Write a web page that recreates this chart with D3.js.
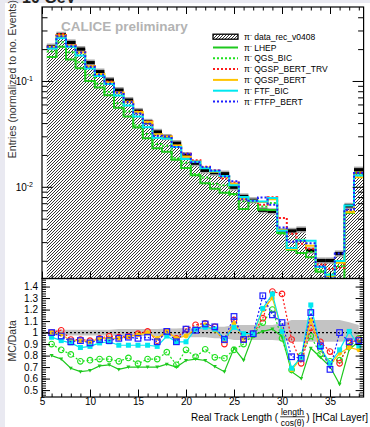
<!DOCTYPE html>
<html>
<head>
<meta charset="utf-8">
<script src="https://cdn.jsdelivr.net/npm/d3@7"></script>
<style>
  body { margin: 0; background: #fff; }
  svg { display: block; font-family: "Liberation Sans", Arial, sans-serif; }
</style>
</head>
<body>
<svg id="chart" width="370" height="427"></svg>
<script>
// bin centres (HCal layers)
const binCenters = [6,7,8,9,10,11,12,13,14,15,16,17,18,19,20,21,22,23,24,25,26,27,28,29,30,31,32,33,34,35,36,37,38];

// data, normalized entries
const dataVals = [0.211,0.273,0.231,0.200,0.149,0.1225,0.102,0.082,0.066,0.052,0.041,0.033,0.0295,0.0258,
  0.0199,0.0167,0.0143,0.0136,0.0133,0.0099,0.0081,0.00745,0.0060,0.00586,0.0038,0.00383,0.00395,
  0.0025,0.00201,0.00201,0.00234,0.0066,0.0145];

// MC/Data ratios per model
const ratioLHEP = [0.80,0.77,0.69,0.66,0.67,0.71,0.72,0.68,0.70,0.70,0.70,0.70,0.725,0.70,
  0.757,0.77,0.757,0.705,0.66,0.864,0.76,0.98,1.01,1.03,0.965,0.66,0.60,0.864,0.785,0.705,0.55,0.855,0.92];
const ratioQGSBIC = [0.90,0.85,0.81,0.75,0.76,0.77,0.77,0.75,0.78,0.73,0.77,0.77,0.83,0.72,
  0.85,0.79,0.855,0.785,0.777,0.85,0.90,0.98,1.087,1.20,0.95,0.675,0.80,0.97,0.81,0.75,0.76,0.88,0.95];
const ratioTRV = [1.0,1.02,0.94,0.94,0.93,0.95,0.97,0.96,0.97,0.99,1.01,0.93,1.01,0.95,
  1.03,1.067,1.08,1.05,0.90,1.11,0.94,0.99,1.125,1.357,1.336,0.94,0.733,1.04,0.92,0.835,0.733,0.91,0.94];
const ratioQGSPBERT = [1.0,0.985,0.93,0.93,0.92,0.95,0.95,0.95,0.965,0.98,1.0,0.95,1.01,0.95,
  0.97,1.03,1.067,1.02,0.94,1.08,0.95,0.99,1.197,1.30,1.02,0.675,0.777,1.11,0.864,0.72,0.82,0.87,0.85];
const ratioFTFBIC = [0.96,0.93,0.91,0.87,0.88,0.91,0.92,0.89,0.89,0.89,0.89,0.88,0.97,0.92,
  0.92,1.03,1.046,1.03,0.95,1.046,0.99,0.99,1.21,1.336,1.01,0.69,0.785,1.24,0.87,0.733,0.85,1.01,0.884];
const ratioFTFPBERT = [1.0,0.97,0.92,0.93,0.91,0.94,0.93,0.95,0.96,0.95,0.96,0.92,1.01,0.92,
  1.03,1.02,1.075,1.05,0.94,1.14,0.94,0.99,1.32,1.154,1.087,0.79,0.777,1.174,0.884,0.68,1.0,0.92,0.93];

// data uncertainty band in the ratio panel
const bandUp = [1.025,1.025,1.025,1.025,1.025,1.025,1.025,1.03,1.03,1.03,1.03,1.03,1.035,1.035,
  1.04,1.04,1.04,1.05,1.05,1.065,1.065,1.065,1.065,1.065,1.08,1.11,1.11,1.11,1.11,1.11,1.11,1.09,1.065];
const bandLo = [0.975,0.975,0.975,0.975,0.975,0.975,0.975,0.97,0.97,0.97,0.97,0.97,0.965,0.965,
  0.96,0.96,0.96,0.95,0.95,0.935,0.935,0.935,0.935,0.935,0.93,0.92,0.92,0.92,0.92,0.92,0.92,0.925,0.935];

const xMajor = [5,10,15,20,25,30,35];
const ratioMajor = [0.5,0.6,0.7,0.8,0.9,1.0,1.1,1.2,1.3,1.4];
const logMajor = [0.01,0.1];

const models = [
  {name:"LHEP", ratio:ratioLHEP, color:"#1ec81e", dash:null, marker:"tri"},
  {name:"QGS_BIC", ratio:ratioQGSBIC, color:"#1ee01e", dash:"2,2", marker:"ocirc"},
  {name:"QGSP_BERT_TRV", ratio:ratioTRV, color:"#ff1a1a", dash:"2,2", marker:"ocirc"},
  {name:"QGSP_BERT", ratio:ratioQGSPBERT, color:"#ffc400", dash:null, marker:"fcirc"},
  {name:"FTF_BIC", ratio:ratioFTFBIC, color:"#00e8f0", dash:null, marker:"fsq"},
  {name:"FTFP_BERT", ratio:ratioFTFPBERT, color:"#1f1fff", dash:"2,2", marker:"osq"}
];

const L = 42, R = 363.6, T = 7, M = 278.5, B = 397;
const svg = d3.select("#chart");

// page strips and the cut-off title above the pad
svg.append("rect").attr("x",0).attr("y",0).attr("width",370).attr("height",3).attr("fill","#e9e9f1");
svg.append("rect").attr("x",0).attr("y",0).attr("width",5).attr("height",427).attr("fill","#e9e9f1");
svg.append("text").attr("x",22).attr("y",3).attr("font-size",16).attr("font-weight","bold")
  .attr("fill","#222").text("10 GeV");

const defs = svg.append("defs");
defs.append("pattern").attr("id","hatch").attr("patternUnits","userSpaceOnUse")
  .attr("width",3).attr("height",3)
  .append("path").attr("d","M-1,1 l2,-2 M0,3 l3,-3 M2,4 l2,-2")
  .attr("stroke","#000").attr("stroke-width",0.8);
defs.append("clipPath").attr("id","clipTop").append("rect")
  .attr("x",L).attr("y",T).attr("width",R-L).attr("height",M-T);
defs.append("clipPath").attr("id","clipRat").append("rect")
  .attr("x",L).attr("y",M).attr("width",R-L).attr("height",B-M);

const x = d3.scaleLinear().domain([5,38.5]).range([L,R]);
const yTop = d3.scaleLog().domain([0.00136,0.5]).range([M,T]);
const yRat = d3.scaleLinear().domain([0.44,1.47]).range([B,M]);

// ---------- top panel ----------
svg.append("rect").attr("x",L).attr("y",T).attr("width",R-L).attr("height",B-T).attr("fill","#fff");
const gTop = svg.append("g").attr("clip-path","url(#clipTop)");
const last = binCenters.length - 1;
function stepPts(vals) {
  const p = binCenters.map((c,i) => [c-0.5, vals[i]]);
  p.push([binCenters[last]+0.5, vals[last]]);
  return p;
}
const stepLine = d3.line().x(d => x(d[0])).y(d => yTop(d[1])).curve(d3.curveStepAfter);
const stepArea = d3.area().x(d => x(d[0])).y0(M).y1(d => yTop(d[1])).curve(d3.curveStepAfter);

gTop.append("path").attr("d", stepArea(stepPts(dataVals))).attr("fill","url(#hatch)");
gTop.selectAll("rect.errg").data(dataVals).join("rect")
  .attr("x",(v,i) => x(binCenters[i]-0.5)).attr("width",(v,i) => x(binCenters[i]+0.5)-x(binCenters[i]-0.5))
  .attr("y", v => yTop(v*1.07)).attr("height", v => yTop(v/1.07)-yTop(v*1.07)).attr("fill","#a8a8a8");
gTop.selectAll("rect.errb").data(dataVals).join("rect")
  .attr("x",(v,i) => x(binCenters[i]-0.5)).attr("width",(v,i) => x(binCenters[i]+0.5)-x(binCenters[i]-0.5))
  .attr("y", v => yTop(v*1.035)).attr("height", v => yTop(v/1.035)-yTop(v*1.035)).attr("fill","#000");

models.forEach(m => {
  const mc = dataVals.map((v,i) => v*m.ratio[i]);
  gTop.append("path").attr("d", stepLine(stepPts(mc)))
    .attr("fill","none").attr("stroke",m.color).attr("stroke-width",2)
    .attr("stroke-dasharray", m.dash);
});

// ---------- ratio panel ----------
const gRat = svg.append("g").attr("clip-path","url(#clipRat)");
const band = d3.area().x((c,i) => x(c)).y0((c,i) => yRat(bandLo[i])).y1((c,i) => yRat(bandUp[i]));
gRat.append("path").attr("d", band(binCenters)).attr("fill","#c3c3c3");
gRat.append("line").attr("x1",L).attr("x2",R).attr("y1",yRat(1)).attr("y2",yRat(1))
  .attr("stroke","#000").attr("stroke-width",1.3).attr("stroke-dasharray","2,2");

const rLine = d3.line().x((c,i) => x(c));
models.forEach(m => {
  gRat.append("path").attr("d", rLine.y((c,i) => yRat(m.ratio[i]))(binCenters))
    .attr("fill","none").attr("stroke",m.color).attr("stroke-width",1.2)
    .attr("stroke-dasharray", m.dash);
  const pts = gRat.append("g").selectAll("g").data(binCenters).join("g")
    .attr("transform",(c,i) => `translate(${x(c)},${yRat(m.ratio[i])})`);
  if (m.marker === "tri") pts.append("path").attr("d","M-2,-1.5 L2,-1.5 L0,2 Z").attr("fill",m.color);
  if (m.marker === "ocirc") pts.append("circle").attr("r",2.8).attr("fill","none").attr("stroke",m.color).attr("stroke-width",1.1);
  if (m.marker === "fcirc") pts.append("circle").attr("r",2.4).attr("fill",m.color);
  if (m.marker === "fsq") pts.append("rect").attr("x",-2.5).attr("y",-2.5).attr("width",5).attr("height",5).attr("fill",m.color);
  if (m.marker === "osq") pts.append("rect").attr("x",-2.8).attr("y",-2.8).attr("width",5.6).attr("height",5.6)
    .attr("fill","none").attr("stroke",m.color).attr("stroke-width",1.2);
});

// ---------- axes ----------
const xMinor = d3.range(5,39,1);
function ticks(g) { g.select(".domain").remove(); g.selectAll("line").attr("stroke","#000"); }

// top panel x ticks (no labels)
svg.append("g").attr("transform",`translate(0,${M})`).call(d3.axisBottom(x).tickValues(xMajor).tickSize(-7).tickFormat("")).call(ticks);
svg.append("g").attr("transform",`translate(0,${M})`).call(d3.axisBottom(x).tickValues(xMinor).tickSize(-3.5).tickFormat("")).call(ticks);
svg.append("g").attr("transform",`translate(0,${T})`).call(d3.axisTop(x).tickValues(xMajor).tickSize(-7).tickFormat("")).call(ticks);
svg.append("g").attr("transform",`translate(0,${T})`).call(d3.axisTop(x).tickValues(xMinor).tickSize(-3.5).tickFormat("")).call(ticks);

// top panel y ticks
const logMinor = [];
[0.001,0.01,0.1].forEach(d => [2,3,4,5,6,7,8,9].forEach(k => { const v = d*k; if (v > 0.00136 && v < 0.5) logMinor.push(v); }));
svg.append("g").attr("transform",`translate(${L},0)`).call(d3.axisLeft(yTop).tickValues(logMajor).tickSize(-11).tickFormat("")).call(ticks);
svg.append("g").attr("transform",`translate(${L},0)`).call(d3.axisLeft(yTop).tickValues(logMinor).tickSize(-5.5).tickFormat("")).call(ticks);
svg.append("g").attr("transform",`translate(${R},0)`).call(d3.axisRight(yTop).tickValues(logMajor).tickSize(-11).tickFormat("")).call(ticks);
svg.append("g").attr("transform",`translate(${R},0)`).call(d3.axisRight(yTop).tickValues(logMinor).tickSize(-5.5).tickFormat("")).call(ticks);
const logLab = svg.append("g").attr("font-size",10).attr("fill","#000");
logMajor.forEach(v => {
  const t = logLab.append("text").attr("x",33).attr("y",yTop(v)+4).attr("text-anchor","end");
  t.append("tspan").text("10");
  t.append("tspan").attr("dy",-4).attr("font-size",7).text("-" + Math.round(-Math.log10(v)));
});

// ratio x ticks + labels
svg.append("g").attr("transform",`translate(0,${B})`).call(d3.axisBottom(x).tickValues(xMajor).tickSize(-7.5).tickPadding(1))
  .call(ticks).call(g => g.selectAll("text").attr("font-size",10).attr("font-family","Liberation Sans, Arial").attr("fill","#000"));
svg.append("g").attr("transform",`translate(0,${B})`).call(d3.axisBottom(x).tickValues(xMinor).tickSize(-3.5).tickFormat("")).call(ticks);

// ratio y ticks + labels
const ratioMinor = d3.range(0.46,1.47,0.02);
svg.append("g").attr("transform",`translate(${L},0)`)
  .call(d3.axisLeft(yRat).tickValues(ratioMajor).tickSize(-8).tickPadding(4).tickFormat(d => d === 1 ? "1" : d.toFixed(1)))
  .call(ticks).call(g => g.selectAll("text").attr("font-size",10).attr("font-family","Liberation Sans, Arial").attr("fill","#000"));
svg.append("g").attr("transform",`translate(${L},0)`).call(d3.axisLeft(yRat).tickValues(ratioMinor).tickSize(-4).tickFormat("")).call(ticks);
svg.append("g").attr("transform",`translate(${R},0)`).call(d3.axisRight(yRat).tickValues(ratioMajor).tickSize(-8).tickFormat("")).call(ticks);
svg.append("g").attr("transform",`translate(${R},0)`).call(d3.axisRight(yRat).tickValues(ratioMinor).tickSize(-4).tickFormat("")).call(ticks);

// frames
svg.append("rect").attr("x",L).attr("y",T).attr("width",R-L).attr("height",M-T).attr("fill","none").attr("stroke","#000").attr("stroke-width",1.2);
svg.append("rect").attr("x",L).attr("y",M).attr("width",R-L).attr("height",B-M).attr("fill","none").attr("stroke","#000").attr("stroke-width",1.2);

// ---------- texts ----------
svg.append("text").attr("x",61).attr("y",31).attr("font-size",13.5).attr("font-weight","bold")
  .attr("fill","#b3b3b3").text("CALICE preliminary");

svg.append("text").attr("transform","translate(16,0) rotate(-90)").attr("x",0).attr("y",0)
  .attr("text-anchor","end").attr("font-size",10.5).attr("fill","#333")
  .text("Entries (normalized to no. Events)");
svg.append("text").attr("transform",`translate(16,${(M+B)/2+3}) rotate(-90)`)
  .attr("text-anchor","middle").attr("font-size",10.5).attr("fill","#333").text("MC/Data");

// x title with a small fraction
const xt = svg.append("g").attr("font-size",10).attr("fill","#000");
const t2 = xt.append("text").attr("x",368).attr("y",420.5).attr("text-anchor","end").text(") [HCal Layer]");
const w2 = t2.node().getComputedTextLength();
const num = xt.append("text").attr("y",415).attr("font-size",8.5).attr("text-anchor","middle").text("length");
const den = xt.append("text").attr("y",425.5).attr("font-size",8.5).attr("text-anchor","middle").text("cos(θ)");
const wf = Math.max(num.node().getComputedTextLength(), den.node().getComputedTextLength()) + 1;
const fc = 368 - w2 - 1.5 - wf/2;
num.attr("x",fc); den.attr("x",fc);
xt.append("line").attr("x1",fc-wf/2).attr("x2",fc+wf/2).attr("y1",416.8).attr("y2",416.8).attr("stroke","#000").attr("stroke-width",0.8);
xt.append("text").attr("x",fc-wf/2-2).attr("y",420.5).attr("text-anchor","end").text("Real Track Length (");

// legend
const leg = svg.append("g").attr("font-size",8.5).attr("fill","#000");
const legRows = [{name:"data_rec_v0408"}].concat(models);
legRows.forEach((m,i) => {
  const yy = 36.7 + i*10.8;
  if (i === 0) {
    leg.append("rect").attr("x",213).attr("y",yy-2.5).attr("width",25).attr("height",5)
      .attr("fill","url(#hatch)").attr("stroke","#000").attr("stroke-width",1.3);
  } else {
    leg.append("line").attr("x1",213).attr("x2",238).attr("y1",yy).attr("y2",yy)
      .attr("stroke",m.color).attr("stroke-width",2).attr("stroke-dasharray",m.dash);
  }
  const t = leg.append("text").attr("x",244).attr("y",yy+3);
  t.append("tspan").text("π");
  t.append("tspan").attr("dy",-3).attr("font-size",6).text("-");
  t.append("tspan").attr("dy",3).text(" " + m.name);
});
</script>
</body>
</html>
